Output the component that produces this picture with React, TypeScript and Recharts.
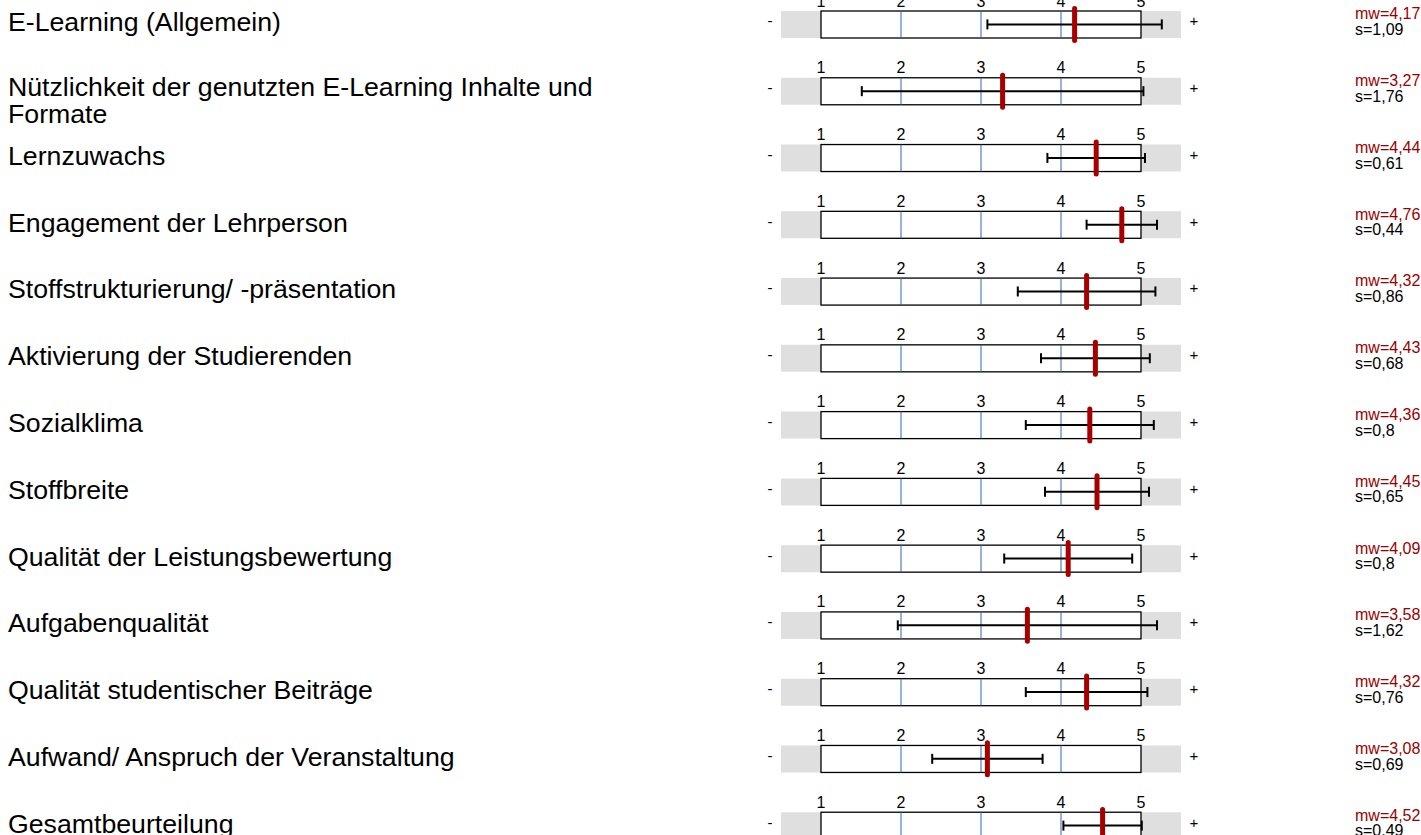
import React from 'react';
import { ComposedChart, Bar, Scatter, ErrorBar, XAxis, YAxis } from 'recharts';

// Items of the course evaluation (profile line), mean and standard deviation per item
const LABELS = [
  'E-Learning (Allgemein)',
  'Nützlichkeit der genutzten E-Learning Inhalte und\nFormate',
  'Lernzuwachs',
  'Engagement der Lehrperson',
  'Stoffstrukturierung/ -präsentation',
  'Aktivierung der Studierenden',
  'Sozialklima',
  'Stoffbreite',
  'Qualität der Leistungsbewertung',
  'Aufgabenqualität',
  'Qualität studentischer Beiträge',
  'Aufwand/ Anspruch der Veranstaltung',
  'Gesamtbeurteilung',
];
const MEANS = [4.17, 3.27, 4.44, 4.76, 4.32, 4.43, 4.36, 4.45, 4.09, 3.58, 4.32, 3.08, 4.52];
const DEVIATIONS = [1.09, 1.76, 0.61, 0.44, 0.86, 0.68, 0.8, 0.65, 0.8, 1.62, 0.76, 0.69, 0.49];

const SCALE_TICKS = [1, 2, 3, 4, 5];
const SCALE_RANGE: [number, number] = [1, 5];
const BAND_RANGE: [number, number] = [0.5, 5.5];

const rows = LABELS.map((label, i) => ({
  label,
  mean: MEANS[i],
  s: DEVIATIONS[i],
  band: BAND_RANGE,
  box: SCALE_RANGE,
}));

const FONT = '"Liberation Sans", Arial, Helvetica, sans-serif';
const fmt = (v: number) => String(v).replace('.', ',');

const LabelTick = (props: any) => {
  const { y, payload } = props;
  const row = rows.find((r) => r.label === payload.value);
  const lines = String(payload.value).split('\n');
  const firstY = lines.length > 1 ? y + 5 : y + 7;
  return (
    <g fontFamily={FONT}>
      <text x={8} y={firstY} fontSize={26.7} fill="#000">
        {lines.map((l, i) => (
          <tspan key={i} x={8} dy={i === 0 ? 0 : 27}>
            {l}
          </tspan>
        ))}
      </text>
      <text x={770} y={y + 2} textAnchor="middle" fontSize={15} fill="#000">
        -
      </text>
      <text x={1194} y={y + 2} textAnchor="middle" fontSize={15} fill="#000">
        +
      </text>
      {row && (
        <>
          <text x={1355} y={y - 5} fontSize={16} fill="#990000">
            mw={fmt(row.mean)}
          </text>
          <text x={1355} y={y + 10.7} fontSize={16} fill="#000">
            s={fmt(row.s)}
          </text>
        </>
      )}
    </g>
  );
};

// white 1..5 box with the inner scale lines and the numbers above it
const BoxShape = (props: any) => {
  const { x, y, width, height } = props;
  const [lo, hi] = SCALE_RANGE;
  const px = (t: number) => x + ((t - lo) / (hi - lo)) * width;
  return (
    <g>
      <rect x={x} y={y} width={width} height={height} fill="#fff" stroke="#000" strokeWidth={1.3} />
      {SCALE_TICKS.filter((t) => t > lo && t < hi).map((t) => (
        <line key={t} x1={px(t)} x2={px(t)} y1={y} y2={y + height} stroke="#2f66ad" strokeWidth={1} />
      ))}
      {SCALE_TICKS.map((t) => (
        <text
          key={'n' + t}
          x={px(t)}
          y={y - 4.5}
          textAnchor="middle"
          fontSize={16}
          fontFamily={FONT}
          fill="#000"
        >
          {t}
        </text>
      ))}
    </g>
  );
};

const MeanMarker = (props: any) => {
  const { cx, cy } = props;
  return (
    <line
      x1={cx}
      x2={cx}
      y1={cy - 16}
      y2={cy + 16}
      stroke="#a80000"
      strokeWidth={5}
      strokeLinecap="round"
    />
  );
};

export default function App() {
  return (
    <div
      style={{
        position: 'absolute',
        left: 0,
        top: 0,
        width: 1421,
        height: 835,
        overflow: 'hidden',
        background: '#fff',
      }}
    >
      <div style={{ position: 'absolute', left: 0, top: -9 }}>
        <ComposedChart
          width={1421}
          height={868}
          data={rows}
          layout="vertical"
          margin={{ top: 0, right: 240, bottom: 0, left: 0 }}
          barGap={-27}
        >
          <XAxis type="number" domain={BAND_RANGE} hide />
          <YAxis
            yAxisId="left"
            type="category"
            dataKey="label"
            width={781}
            interval={0}
            tickLine={false}
            axisLine={false}
            tick={<LabelTick />}
          />
          <Bar yAxisId="left" dataKey="band" barSize={27} fill="#dfdfdf" isAnimationActive={false} />
          <Bar yAxisId="left" dataKey="box" barSize={27} shape={<BoxShape />} isAnimationActive={false} />
          <Scatter yAxisId="left" dataKey="mean" shape={<MeanMarker />} isAnimationActive={false}>
            <ErrorBar dataKey="s" direction="x" width={5} stroke="#000" strokeWidth={2} />
          </Scatter>
        </ComposedChart>
      </div>
    </div>
  );
}
